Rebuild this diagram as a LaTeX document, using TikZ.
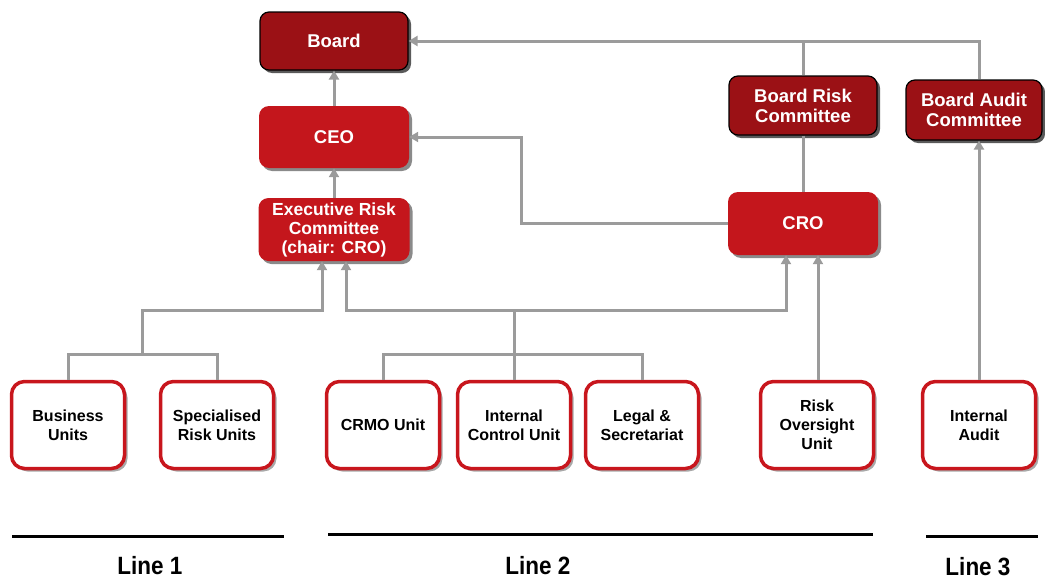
\documentclass[tikz,border=0pt]{standalone}
\usepackage{fontspec}
\setmainfont{Liberation Sans}
\usetikzlibrary{arrows.meta,shadows}
\definecolor{boardred}{HTML}{9B1115}
\definecolor{mainred}{HTML}{C4161C}
\definecolor{edgered}{HTML}{C8161D}
\definecolor{conngray}{HTML}{9B9B9B}
\definecolor{shadowdark}{HTML}{5A5A5A}
\definecolor{shadowmid}{HTML}{8A8A8A}
\definecolor{shadowlight}{HTML}{A8A8A8}
\tikzset{
  boardbox/.style={draw=black, line width=1.2pt, fill=boardred, rounded corners=9pt,
    text=white, font=\bfseries\fontsize{18.5}{20}\selectfont, align=center,
    drop shadow={shadow xshift=3pt, shadow yshift=-3pt, fill=shadowdark, opacity=1}},
  execbox/.style={fill=mainred, rounded corners=10pt,
    text=white, font=\bfseries\fontsize{18.5}{20}\selectfont, align=center,
    drop shadow={shadow xshift=3pt, shadow yshift=-3pt, fill=shadowmid, opacity=1}},
  unitbox/.style={draw=edgered, line width=3.5pt, fill=white, rounded corners=13pt,
    minimum width=113pt, minimum height=87pt, inner sep=2pt,
    text=black, font=\bfseries\fontsize{16}{19}\selectfont, align=center,
    drop shadow={shadow xshift=3pt, shadow yshift=-3pt, fill=shadowlight, opacity=1}},
  conn/.style={draw=conngray, line width=3pt},
  arr/.style={conn, -{Triangle[width=10pt,length=9pt]}},
  bar/.style={draw=black, line width=3pt},
  linelabel/.style={font=\bfseries\fontsize{25}{27}\selectfont, text=black}
}
\begin{document}
\begin{tikzpicture}[x=1pt,y=-1pt]
\useasboundingbox (0,0) rectangle (1045,581);

% top nodes
\node[boardbox, minimum width=148pt, minimum height=58pt] (Board) at (334,41) {Board};
\node[execbox, minimum width=150pt, minimum height=62pt] (CEO) at (334,137) {CEO};
\node[execbox, minimum width=151pt, minimum height=63pt, inner sep=1pt,
      font=\bfseries\fontsize{17.5}{19}\selectfont] (ERC) at (334,229.5)
      {Executive Risk\\Committee\\(chair: CRO)};
\node[boardbox, minimum width=148pt, minimum height=59pt] (BRC) at (803,105.5) {Board Risk\\Committee};
\node[boardbox, minimum width=136pt, minimum height=60pt] (BAC) at (974,110) {Board Audit\\Committee};
\node[execbox, minimum width=150pt, minimum height=63pt] (CRO) at (803,223.5) {CRO};

% bottom units
\node[unitbox] (BU)   at (68,425)  {Business\\Units};
\node[unitbox] (SRU)  at (217,425) {Specialised\\Risk Units};
\node[unitbox] (CRMO) at (383,425) {CRMO Unit};
\node[unitbox] (ICU)  at (514,425) {Internal\\Control Unit};
\node[unitbox] (LS)   at (642,425) {Legal \&\\Secretariat};
\node[unitbox] (ROU)  at (817,425) {Risk\\Oversight\\Unit};
\node[unitbox] (IA)   at (979,425) {Internal\\Audit};

% junction coordinates
\coordinate (j1) at (142,355);
\coordinate (j1t) at (142,310);
\coordinate (j2) at (514,310);
\coordinate (k) at (521,0);

% connectors
\draw[arr] (CEO.north) -- (Board.south);
\draw[arr] (ERC.north) -- (CEO.south);
\draw[arr] (BAC.north -| IA.north) |- (Board.east);
\draw[conn] (BRC.north) -- (BRC.north |- Board.east);
\draw[conn] (BRC.south) -- (CRO.north);
\draw[arr] (CRO.west) -- (CRO.west -| k) |- (CEO.east);

\draw[conn] (BU.north) -- ++(0,-25) -| (SRU.north);
\draw[arr] (j1) -- (j1t) -| ([xshift=-12pt]ERC.south);
\draw[conn] (CRMO.north) -- ++(0,-25) -| (LS.north);
\draw[conn] (ICU.north) -- (j2);
\draw[arr] (j2) -| ([xshift=12pt]ERC.south);
\draw[arr] (j2) -| ([xshift=-17pt]CRO.south);
\draw[arr] ([xshift=1pt]ROU.north) -- ([xshift=15pt]CRO.south);
\draw[arr] (IA.north) -- (IA.north |- BAC.south);

% lines of defence
\draw[bar] (12,536) -- (284,536);
\draw[bar] (328,534) -- (873,534);
\draw[bar] (926,536) -- (1038,536);
\node[linelabel] (L1) at (150,566) {\scalebox{0.9}[1]{Line 1}};
\node[linelabel] (L2) at (538,566) {\scalebox{0.9}[1]{Line 2}};
\node[linelabel] (L3) at (978,567) {\scalebox{0.9}[1]{Line 3}};
\end{tikzpicture}
\end{document}
